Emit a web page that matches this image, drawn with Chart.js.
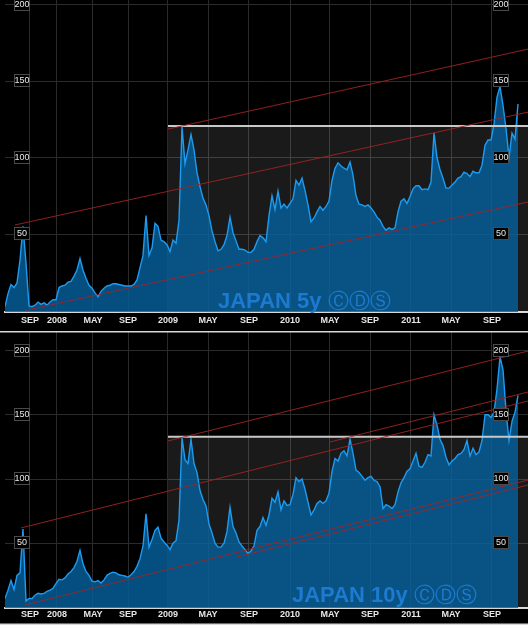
<!DOCTYPE html>
<html>
<head>
<meta charset="utf-8">
<script src="https://cdn.jsdelivr.net/npm/chart.js@4.4.0/dist/chart.umd.min.js"></script>
<style>
  html, body { margin: 0; padding: 0; background: #000; }
  canvas { display: block; }
</style>
</head>
<body>
<canvas id="cds-5y" width="528" height="331"></canvas>
<canvas id="cds-10y" width="528" height="294"></canvas>
<script>
// x = running sample index (one step is a few trading days)
const tickPos = [8.33, 17.33, 29.33, 41, 54.33, 67.67, 81.33, 95, 108.33, 121.67, 135.33, 148.67, 162.33];
const tickLabels = ["SEP", "2008", "MAY", "SEP", "2009", "MAY", "SEP", "2010", "MAY", "SEP", "2011", "MAY", "SEP"];
const yTicks = [50, 100, 150, 200];

const cds5y = [
    2.5, 11, 17, 15, 18, 33, 55, 31, 3, 2.5,
    3.5, 5.5, 4, 5, 3.5, 5.5, 7, 7, 15, 16,
    16.5, 18.5, 19, 22.5, 26.5, 34, 26.5, 21, 16.5, 14.5,
    11.5, 9, 12.5, 14.5, 16, 16.5, 17.5, 17.5, 17, 16.5,
    16, 16, 16, 17, 20, 28, 36, 62, 36, 41,
    57, 55, 46, 45, 43, 38.5, 46, 44, 59, 120,
    96, 105, 115, 105, 90, 81, 73.5, 69, 62, 52,
    45, 39, 40, 43, 49, 61, 51, 45.5, 40, 40,
    39.5, 38, 38, 40, 45, 49, 47.5, 45, 62, 75,
    66, 78, 67, 69.5, 67, 70, 73, 85, 82, 86.5,
    78.5, 69, 58, 60.5, 64.5, 68, 65.5, 68, 71.5, 85,
    93, 96.5, 94.5, 93, 92, 97, 88.5, 75, 69.5, 69,
    68, 69, 67, 64.5, 61, 59, 55, 52.5, 54, 53,
    54, 64.5, 71.5, 73, 70, 74.5, 79.5, 81.5, 81.5, 79,
    79.5, 79, 84, 116, 100, 92, 86.5, 80, 80, 82,
    84, 86.5, 87.5, 90.5, 89.5, 87.5, 91, 90, 90, 95,
    108, 111.5, 111.5, 122, 139.5, 146.5, 134, 119, 100, 116,
    112, 135
];

const cds10y = [
    7, 13.5, 21, 14, 25, 27, 61, 5, 7, 7,
    9.5, 11, 10.5, 11, 12.5, 13.5, 15, 18.5, 22, 21.5,
    23, 26, 28, 31, 36, 44.5, 34, 28, 25, 20.5,
    20, 21, 19, 21.5, 25, 26.5, 27.5, 27, 25.5, 25,
    24.5, 23.5, 25.5, 28, 32, 38, 48, 73, 47, 53,
    60, 62.5, 54, 51, 48.5, 45, 50, 52, 68, 132,
    115, 112, 131, 112, 105, 91, 84, 79, 65, 58,
    50, 47, 47, 50, 59, 78, 63, 58, 51, 48,
    45, 42, 44, 48, 60, 63, 70, 64, 72, 85,
    82, 90, 76, 83, 79.5, 80, 88, 101, 98, 100,
    92, 82, 72, 76, 81, 83, 81, 83, 89, 106,
    116, 114, 120, 122, 118, 131, 120, 107, 105, 102,
    99, 101, 102, 99, 98, 94, 77, 80, 79, 77,
    80, 90, 97, 101, 106, 108, 114, 120, 110, 109,
    113, 119, 118, 150, 142, 131, 126, 117, 111, 114,
    116, 119, 120, 123, 130, 118, 124, 119, 121, 130,
    150, 150, 148, 152, 170, 195, 185, 153, 130, 145,
    152, 165
];

// trend channels: [x0, y0, x1, y1]
const channels5y = [[54.33, 118.6, 174.33, 170.9], [3.33, 55.9, 174.33, 129.7], [6.67, 0, 174.33, 70.9]];
const channels10y = [[54.33, 129.6, 174.33, 199.6], [108.33, 128.8, 174.33, 167.7], [5.33, 61.9, 174.33, 160.7],
                     [6.67, 1.9, 174.33, 99.2], [77.33, 39.3, 174.33, 95.3]];
const range5y = [54.33, 174.33, 120.6];
const range10y = [54.33, 174.33, 132.9];
const xMax = 174.33;

const overlay = {
    id: 'overlay',
    afterDatasetsDraw(chart, args, o) {
        const ctx = chart.ctx, ys = chart.scales.y;
        ctx.save();
        // watermark
        ctx.textAlign = 'left';
        ctx.textBaseline = 'alphabetic';
        ctx.fillStyle = '#1c7bd0';
        ctx.font = 'bold 22px "Liberation Sans"';
        ctx.fillText(o.title, o.tx, o.ty);
        const w = ctx.measureText(o.title + ' ').width;
        ctx.font = '21px "DejaVu Sans"';
        ctx.fillText('\u24B8\u24B9\u24C8', o.tx + w, o.ty);

        // boxed value labels
        ctx.font = '9px "Liberation Sans"';
        ctx.textAlign = 'center';
        ctx.textBaseline = 'middle';
        yTicks.forEach(v => {
            const py = Math.round(ys.getPixelForValue(v));
            [22, 501].forEach(cx => {
                ctx.fillStyle = '#000';
                ctx.fillRect(cx - 8, py - 7, 16, 13);
                ctx.strokeStyle = '#4a4a4a';
                ctx.lineWidth = 1;
                ctx.strokeRect(cx - 7.5, py - 6.5, 15, 12);
                ctx.fillStyle = '#e8e8e8';
                ctx.fillText(String(v), cx, py);
            });
        });

        ctx.fillStyle = '#d8d8d8';
        if (o.lineTop) ctx.fillRect(0, 0, chart.width, 1.5);
        if (o.lineBottom) ctx.fillRect(0, chart.height - 1.5, chart.width, 1.5);
        ctx.restore();
    }
};

function cdsChart(id, values, channels, range, yMin, yMax, axisH, pad, wm) {
    const datasets = [{
        data: [{x: range[0], y: range[2]}, {x: range[1], y: range[2]}],
        borderWidth: 0,
        backgroundColor: 'rgba(255,255,255,0.1)',
        fill: 'start',
        order: 3
    }, {
        data: values.map((v, i) => ({x: i, y: v})),
        borderColor: '#1d9bf0',
        borderWidth: 1.4,
        backgroundColor: 'rgba(6,96,156,0.82)',
        fill: 'start',
        order: 2
    }, {
        data: [{x: range[0], y: range[2]}, {x: range[1], y: range[2]}],
        borderColor: '#c8c8c8',
        borderWidth: 2,
        fill: false,
        order: 1
    }];
    channels.forEach(c => datasets.push({
        data: [{x: c[0], y: c[1]}, {x: c[2], y: c[3]}],
        borderColor: 'rgba(160,36,36,0.9)',
        borderWidth: 1,
        fill: false,
        order: 0
    }));

    return new Chart(document.getElementById(id), {
        type: 'line',
        data: {datasets: datasets},
        plugins: [overlay],
        options: {
            responsive: false,
            animation: false,
            events: [],
            layout: {padding: {left: 5, right: 0, top: 0, bottom: 0}},
            elements: {point: {radius: 0}, line: {tension: 0}},
            scales: {
                x: {
                    type: 'linear',
                    min: 0,
                    max: xMax,
                    afterBuildTicks: s => { s.ticks = tickPos.map(v => ({value: v})); },
                    afterFit: s => { s.height = axisH; },
                    grid: {color: '#2b2b2b', drawTicks: false},
                    border: {color: '#d8d8d8', width: 2},
                    ticks: {
                        autoSkip: false,
                        maxRotation: 0,
                        padding: pad,
                        color: '#e6e6e6',
                        font: {family: 'Liberation Sans', size: 9, weight: 'bold'},
                        callback: (v, i) => tickLabels[i]
                    }
                },
                y: {
                    min: yMin,
                    max: yMax,
                    afterBuildTicks: s => { s.ticks = yTicks.map(v => ({value: v})); },
                    afterFit: s => { s.width = 0; },
                    grid: {color: '#2b2b2b', drawTicks: false},
                    border: {display: false},
                    ticks: {display: false}
                }
            },
            plugins: {
                legend: {display: false},
                tooltip: {enabled: false},
                overlay: wm
            }
        }
    });
}

cdsChart('cds-5y', cds5y, channels5y, range5y, -1, 203, 19, 3,
    {title: 'JAPAN 5y', tx: 218, ty: 308, lineTop: false, lineBottom: false});
cdsChart('cds-10y', cds10y, channels10y, range10y, -0.4, 215.2, 17, 1,
    {title: 'JAPAN 10y', tx: 292, ty: 271, lineTop: true, lineBottom: true});
</script>
</body>
</html>
